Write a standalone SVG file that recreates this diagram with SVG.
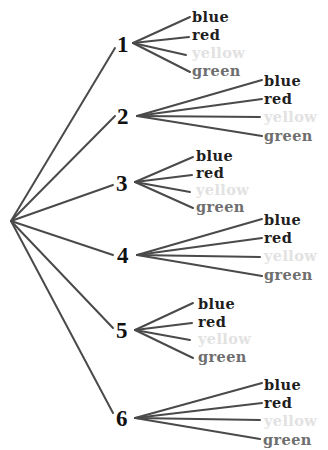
<svg xmlns="http://www.w3.org/2000/svg" width="328" height="450" viewBox="0 0 328 450">
<style>
.bg{fill:#ffffff}
.edge{stroke:#4a4a4a;stroke-width:2;stroke-linecap:round;fill:none}
.num{font-family:"Liberation Serif","Times New Roman",serif;font-weight:bold;font-size:23px;fill:#111}
.leaf{font-family:"DejaVu Serif",serif;font-weight:bold;font-size:14.5px;letter-spacing:0.4px}
.blue,.red{fill:#1e1e1e}
.yellow{fill:#e2e2e2}
.green{fill:#6e6e6e}
</style>
<rect class="bg" x="0" y="0" width="328" height="450"/>
<g id="connectors">
  <line class="edge" x1="11" y1="221" x2="115" y2="48"/>
  <line class="edge" x1="11" y1="221" x2="115" y2="116"/>
  <line class="edge" x1="11" y1="221" x2="113" y2="185"/>
  <line class="edge" x1="11" y1="221" x2="113" y2="255"/>
  <line class="edge" x1="11" y1="221" x2="113" y2="328"/>
  <line class="edge" x1="11" y1="221" x2="113" y2="413"/>
  <line class="edge" x1="133" y1="43" x2="190" y2="17"/>
  <line class="edge" x1="133" y1="43" x2="189" y2="37"/>
  <line class="edge" x1="133" y1="43" x2="186" y2="55"/>
  <line class="edge" x1="133" y1="43" x2="190" y2="72"/>
  <line class="edge" x1="137" y1="116" x2="262" y2="80"/>
  <line class="edge" x1="137" y1="116" x2="262" y2="99"/>
  <line class="edge" x1="137" y1="116" x2="260" y2="117"/>
  <line class="edge" x1="137" y1="116" x2="262" y2="136"/>
  <line class="edge" x1="135" y1="182" x2="193" y2="157"/>
  <line class="edge" x1="135" y1="182" x2="192" y2="175"/>
  <line class="edge" x1="135" y1="182" x2="190" y2="192"/>
  <line class="edge" x1="135" y1="182" x2="193" y2="208"/>
  <line class="edge" x1="137" y1="255" x2="262" y2="219"/>
  <line class="edge" x1="137" y1="255" x2="262" y2="238"/>
  <line class="edge" x1="137" y1="255" x2="260" y2="257"/>
  <line class="edge" x1="137" y1="255" x2="262" y2="276"/>
  <line class="edge" x1="135" y1="330" x2="193" y2="303"/>
  <line class="edge" x1="135" y1="330" x2="192" y2="323"/>
  <line class="edge" x1="135" y1="330" x2="190" y2="340"/>
  <line class="edge" x1="135" y1="330" x2="193" y2="358"/>
  <line class="edge" x1="135" y1="418" x2="262" y2="383"/>
  <line class="edge" x1="135" y1="418" x2="262" y2="403"/>
  <line class="edge" x1="135" y1="418" x2="260" y2="420"/>
  <line class="edge" x1="135" y1="418" x2="260" y2="439"/>
</g>
<g id="n1"><text class="num" x="117" y="52">1</text></g>
<g id="n2"><text class="num" x="117" y="124">2</text></g>
<g id="n3"><text class="num" x="116" y="191">3</text></g>
<g id="n4"><text class="num" x="117" y="263">4</text></g>
<g id="n5"><text class="num" x="116" y="338">5</text></g>
<g id="n6"><text class="num" x="116" y="426">6</text></g>
<g id="g1">
  <text class="leaf blue" x="192" y="22">blue</text>
  <text class="leaf red" x="192" y="40">red</text>
  <text class="leaf yellow" x="192" y="58">yellow</text>
  <text class="leaf green" x="192" y="76">green</text>
</g>
<g id="g2">
  <text class="leaf blue" x="264" y="86">blue</text>
  <text class="leaf red" x="264" y="104">red</text>
  <text class="leaf yellow" x="264" y="122">yellow</text>
  <text class="leaf green" x="264" y="141">green</text>
</g>
<g id="g3">
  <text class="leaf blue" x="196" y="161">blue</text>
  <text class="leaf red" x="196" y="178">red</text>
  <text class="leaf yellow" x="196" y="195">yellow</text>
  <text class="leaf green" x="196" y="212">green</text>
</g>
<g id="g4">
  <text class="leaf blue" x="264" y="225">blue</text>
  <text class="leaf red" x="264" y="243">red</text>
  <text class="leaf yellow" x="264" y="261">yellow</text>
  <text class="leaf green" x="264" y="280">green</text>
</g>
<g id="g5">
  <text class="leaf blue" x="198" y="309">blue</text>
  <text class="leaf red" x="198" y="327">red</text>
  <text class="leaf yellow" x="198" y="344">yellow</text>
  <text class="leaf green" x="198" y="362">green</text>
</g>
<g id="g6">
  <text class="leaf blue" x="264" y="390">blue</text>
  <text class="leaf red" x="264" y="408">red</text>
  <text class="leaf yellow" x="264" y="426">yellow</text>
  <text class="leaf green" x="263" y="445">green</text>
</g>
</svg>
